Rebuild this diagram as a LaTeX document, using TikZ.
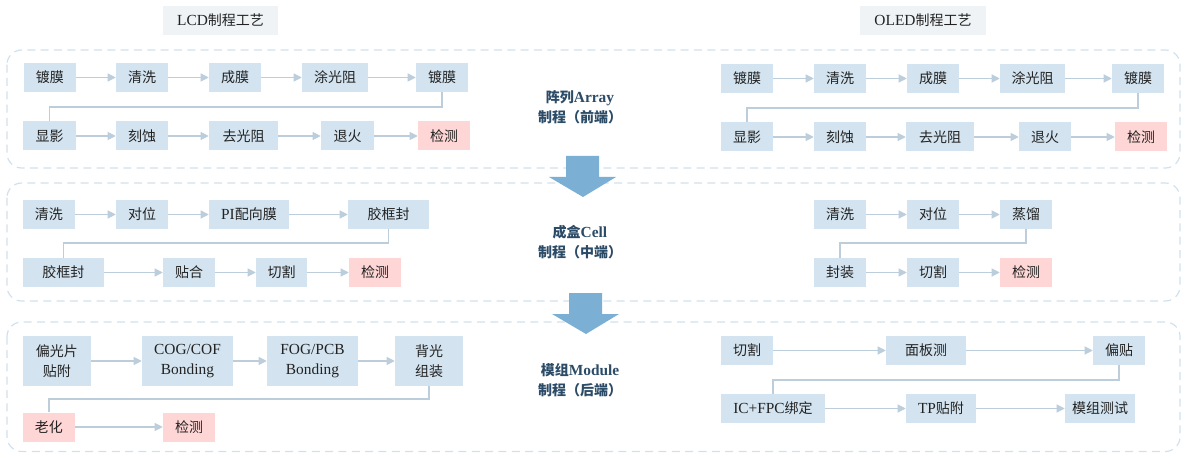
\documentclass[tikz,border=0pt]{standalone}
\usepackage{fontspec}
\setmainfont{Liberation Serif}
\newfontfamily\cjk{Noto Sans CJK SC}
\newfontfamily\latf[Scale=1.1]{Liberation Serif}
\newcommand\myL[1]{{\latf #1}}
\usetikzlibrary{arrows.meta,calc}
\definecolor{boxblue}{HTML}{D3E4F0}
\definecolor{boxpink}{HTML}{FFD6D6}
\definecolor{titlebg}{HTML}{EFF3F6}
\definecolor{panelline}{HTML}{CFE1EE}
\definecolor{connline}{HTML}{BCCDDB}
\definecolor{bigarrow}{HTML}{7BAFD4}
\definecolor{labelblue}{HTML}{2B4B67}
\definecolor{txt}{HTML}{222222}
\begin{document}
\begin{tikzpicture}[x=0.75pt,y=-0.75pt,
  bx/.style={fill=boxblue,inner sep=0pt,minimum height=21.75pt,minimum width=#1*0.75pt,
    font=\cjk\fontsize{10.5}{15}\selectfont,text=txt,align=center},
  bxp/.style={bx=#1,fill=boxpink},
  tall/.style={minimum height=37.5pt},
  conn/.style={draw=connline,line width=0.8pt,-{Triangle[length=6pt,width=6pt]}},
  link/.style={draw=connline,line width=0.8pt},
  panel/.style={draw=panelline,line width=0.9pt,dash pattern=on 6pt off 4pt,rounded corners=11pt},
  title/.style={fill=titlebg,inner sep=0pt,minimum height=21.75pt,minimum width=#1*0.75pt,
    font=\cjk\fontsize{10.5}{15}\selectfont,text=txt},
  stage/.style={font=\cjk\bfseries\fontsize{10.5}{15}\selectfont,text=labelblue,align=center},
  big/.style={fill=bigarrow,draw=none}]
\useasboundingbox (0,0) rectangle (1183,453);

% panels
\draw[panel] (7,50) rectangle (1180,168);
\draw[panel] (7,183) rectangle (1180,301);
\draw[panel] (7,322) rectangle (1180,451.5);

% titles
\node[title=115] (t1) at (220.5,20.5) {\myL{LCD}制程工艺};
\node[title=126] (t2) at (923,20.5) {\myL{OLED}制程工艺};

% stage labels
\node[stage] (s1) at (580,107) {阵列\myL{\bfseries Array}\\制程（前端）};
\node[stage] (s2) at (580,242) {成盒\myL{\bfseries Cell}\\制程（中端）};
\node[stage] (s3) at (580,380) {模组\myL{\bfseries Module}\\制程（后端）};

% big arrows
\fill[big] (566,156) -- (599,156) -- (599,177) -- (616,177) -- (583,197) -- (549,177) -- (566,177) -- cycle;
\fill[big] (569,293) -- (602,293) -- (602,314) -- (619,314) -- (586,334) -- (552,314) -- (569,314) -- cycle;

% ---------- LCD array ----------
\node[bx=52] (a1) at (50,77.5) {镀膜};
\node[bx=52] (a2) at (142,77.5) {清洗};
\node[bx=52] (a3) at (235,77.5) {成膜};
\node[bx=66] (a4) at (335,77.5) {涂光阻};
\node[bx=52] (a5) at (442,77.5) {镀膜};
\node[bx=53] (a6) at (49.5,136) {显影};
\node[bx=52] (a7) at (142,136) {刻蚀};
\node[bx=69] (a8) at (243.5,136) {去光阻};
\node[bx=53] (a9) at (347.5,136) {退火};
\node[bxp=52] (a10) at (444,136) {检测};
\coordinate (m1) at (0,107);
\draw[conn] (a1) -- (a2);
\draw[conn] (a2) -- (a3);
\draw[conn] (a3) -- (a4);
\draw[conn] (a4) -- (a5);
\draw[link] (a5.south) -- (a5.south |- m1) -| (a6.north);
\draw[conn] (a6) -- (a7);
\draw[conn] (a7) -- (a8);
\draw[conn] (a8) -- (a9);
\draw[conn] (a9) -- (a10);

% ---------- OLED array ----------
\node[bx=52] (b1) at (747,78.5) {镀膜};
\node[bx=52] (b2) at (840,78.5) {清洗};
\node[bx=52] (b3) at (933,78.5) {成膜};
\node[bx=65] (b4) at (1032.5,78.5) {涂光阻};
\node[bx=52] (b5) at (1138,78.5) {镀膜};
\node[bx=52] (b6) at (747,137) {显影};
\node[bx=52] (b7) at (840,137) {刻蚀};
\node[bx=68] (b8) at (940,137) {去光阻};
\node[bx=52] (b9) at (1045,137) {退火};
\node[bxp=52] (b10) at (1141,137) {检测};
\coordinate (m2) at (0,108);
\draw[conn] (b1) -- (b2);
\draw[conn] (b2) -- (b3);
\draw[conn] (b3) -- (b4);
\draw[conn] (b4) -- (b5);
\draw[link] (b5.south) -- (b5.south |- m2) -| (b6.north);
\draw[conn] (b6) -- (b7);
\draw[conn] (b7) -- (b8);
\draw[conn] (b8) -- (b9);
\draw[conn] (b9) -- (b10);

% ---------- LCD cell ----------
\node[bx=52] (c1) at (49,214.5) {清洗};
\node[bx=52] (c2) at (142,214.5) {对位};
\node[bx=80] (c3) at (249,214.5) {\myL{PI}配向膜};
\node[bx=81] (c4) at (388.5,214.5) {胶框封};
\node[bx=81] (c5) at (63.5,272.5) {胶框封};
\node[bx=52] (c6) at (189,272.5) {贴合};
\node[bx=51] (c7) at (281.5,272.5) {切割};
\node[bxp=52] (c8) at (375,272.5) {检测};
\coordinate (m3) at (0,243);
\draw[conn] (c1) -- (c2);
\draw[conn] (c2) -- (c3);
\draw[conn] (c3) -- (c4);
\draw[link] (c4.south) -- (c4.south |- m3) -| (c5.north);
\draw[conn] (c5) -- (c6);
\draw[conn] (c6) -- (c7);
\draw[conn] (c7) -- (c8);

% ---------- OLED cell ----------
\node[bx=52] (d1) at (840,214.5) {清洗};
\node[bx=52] (d2) at (933,214.5) {对位};
\node[bx=52] (d3) at (1026,214.5) {蒸馏};
\node[bx=52] (d4) at (840,272.5) {封装};
\node[bx=52] (d5) at (933,272.5) {切割};
\node[bxp=52] (d6) at (1026,272.5) {检测};
\coordinate (m4) at (0,243);
\draw[conn] (d1) -- (d2);
\draw[conn] (d2) -- (d3);
\draw[link] (d3.south) -- (d3.south |- m4) -| (d4.north);
\draw[conn] (d4) -- (d5);
\draw[conn] (d5) -- (d6);

% ---------- LCD module ----------
\node[bx=68,tall] (e1) at (57,361) {偏光片\\贴附};
\node[bx=91,tall] (e2) at (187.5,361) {\myL{COG/COF}\\\myL{Bonding}};
\node[bx=91,tall] (e3) at (312.5,361) {\myL{FOG/PCB}\\\myL{Bonding}};
\node[bx=68,tall] (e4) at (429,361) {背光\\组装};
\node[bxp=52] (e5) at (49,427) {老化};
\node[bxp=52] (e6) at (189,427) {检测};
\coordinate (m5) at (0,399);
\draw[conn] (e1) -- (e2);
\draw[conn] (e2) -- (e3);
\draw[conn] (e3) -- (e4);
\draw[link] (e4.south) -- (e4.south |- m5) -| (e5.north);
\draw[conn] (e5) -- (e6);

% ---------- OLED module ----------
\node[bx=52] (f1) at (747,350.5) {切割};
\node[bx=80] (f2) at (926,350.5) {面板测};
\node[bx=52] (f3) at (1119,350.5) {偏贴};
\node[bx=104] (f4) at (773,408.5) {\myL{IC+FPC}绑定};
\node[bx=70] (f5) at (941,408.5) {\myL{TP}贴附};
\node[bx=70] (f6) at (1100,408.5) {模组测试};
\coordinate (m6) at (0,380);
\draw[conn] (f1) -- (f2);
\draw[conn] (f2) -- (f3);
\draw[link] (f3.south) -- (f3.south |- m6) -| (f4.north);
\draw[conn] (f4) -- (f5);
\draw[conn] (f5) -- (f6);
\end{tikzpicture}
\end{document}
